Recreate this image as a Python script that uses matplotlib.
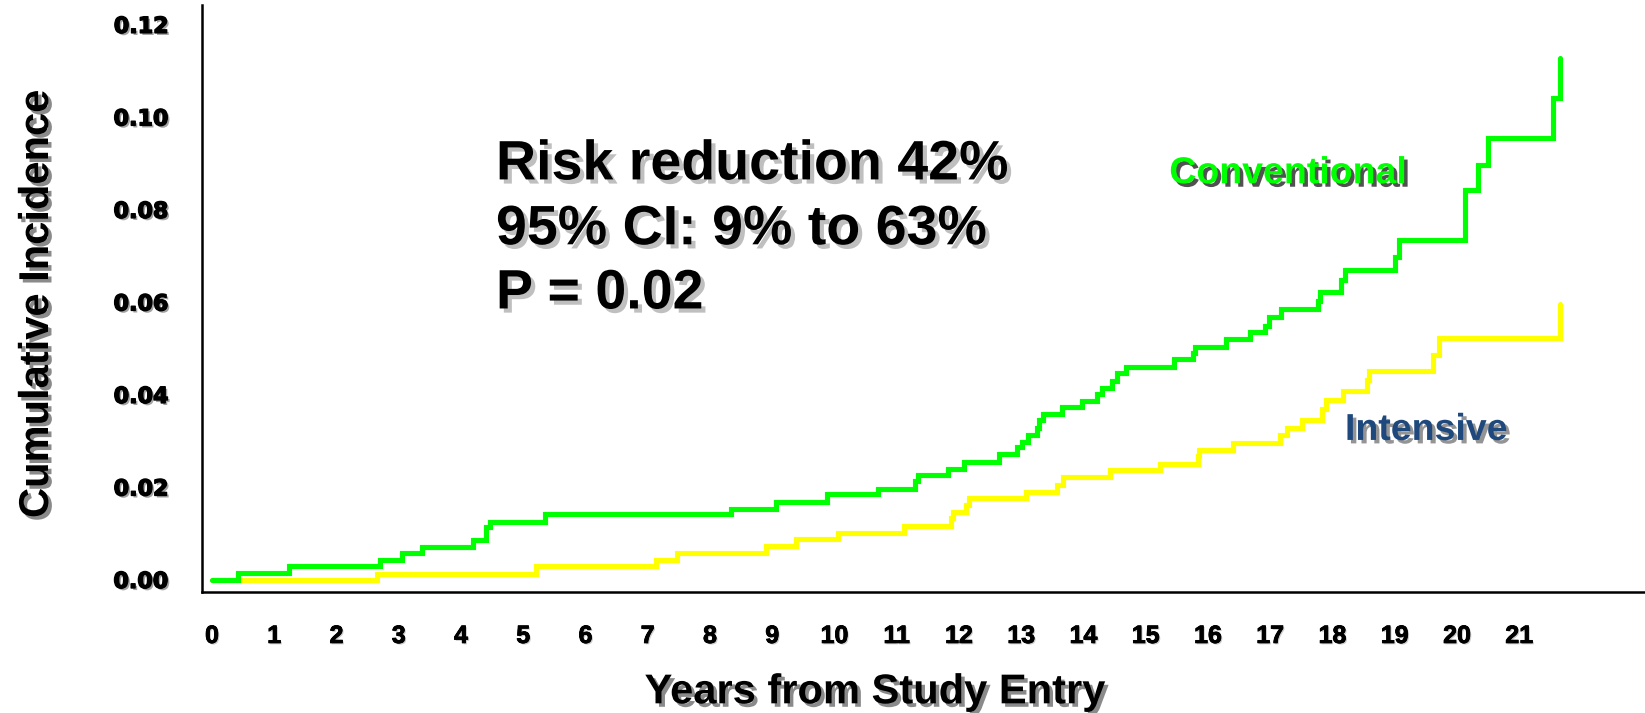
import matplotlib
matplotlib.use("Agg")
import matplotlib.pyplot as plt
import matplotlib.patheffects as pe

# ---------------- data ----------------
conv_years = [0.00, 0.42, 1.24, 2.70, 3.05, 3.37, 4.19, 4.40, 4.47, 5.35,
              8.34, 9.06, 9.88, 10.70, 11.30, 11.34, 11.83, 12.08, 12.64, 12.93,
              13.01, 13.11, 13.26, 13.29, 13.35, 13.66, 13.98, 14.22, 14.30, 14.46,
              14.54, 14.69, 15.46, 15.76, 15.79, 16.29, 16.68, 16.92, 16.98, 17.18,
              17.77, 17.80, 18.14, 18.20, 19.01, 19.07, 20.13, 20.34, 20.49, 21.55,
              21.66]
conv_inc = [0.0000, 0.0016, 0.0030, 0.0043, 0.0059, 0.0072, 0.0086, 0.0115, 0.0126, 0.0142,
            0.0154, 0.0169, 0.0185, 0.0197, 0.0213, 0.0227, 0.0240, 0.0256, 0.0272, 0.0287,
            0.0299, 0.0314, 0.0328, 0.0346, 0.0358, 0.0373, 0.0387, 0.0402, 0.0416, 0.0430,
            0.0447, 0.0461, 0.0477, 0.0491, 0.0504, 0.0520, 0.0535, 0.0549, 0.0568, 0.0585,
            0.0603, 0.0623, 0.0649, 0.0670, 0.0699, 0.0735, 0.0843, 0.0897, 0.0956, 0.1042,
            0.1128]

int_years = [0.00, 2.65, 5.21, 7.13, 7.47, 8.90, 9.38, 10.05, 11.12, 11.87,
             11.91, 12.11, 12.16, 13.08, 13.58, 13.67, 14.43, 15.23, 15.84, 15.86,
             16.40, 17.16, 17.27, 17.51, 17.83, 17.90, 18.17, 18.56, 18.59, 19.62,
             19.71, 21.66]
int_inc = [0.0000, 0.0014, 0.0030, 0.0043, 0.0058, 0.0074, 0.0089, 0.0102, 0.0117, 0.0133,
           0.0148, 0.0162, 0.0177, 0.0191, 0.0205, 0.0222, 0.0238, 0.0250, 0.0267, 0.0280,
           0.0296, 0.0314, 0.0328, 0.0346, 0.0369, 0.0389, 0.0409, 0.0432, 0.0452, 0.0486,
           0.0523, 0.0596]

x_ticks = list(range(0, 22))
x_tick_labels = [str(v) for v in x_ticks]
y_ticks = [0.00, 0.02, 0.04, 0.06, 0.08, 0.10, 0.12]
y_tick_labels = ["0.00", "0.02", "0.04", "0.06", "0.08", "0.10", "0.12"]

stats_lines = ["Risk reduction 42%", "95% CI: 9% to 63%", "P = 0.02"]
series_names = ["Conventional", "Intensive"]
x_title = "Years from Study Entry"
y_title = "Cumulative Incidence"

# ---------------- styling ----------------
GREEN = "#00FF00"
YELLOW = "#FFFF00"
NAVY = "#1F497D"
ARIAL = ["Liberation Sans", "DejaVu Sans"]


def shadow(off=2, color="0.35", alpha=0.7):
    return [pe.withSimplePatchShadow(offset=(off, -off), shadow_rgbFace=color, alpha=alpha)]


fig = plt.figure(figsize=(16.45, 7.13), dpi=100)
ax = fig.add_axes([0.1228, 0.1697, 0.8772, 0.8233])

ax.step(conv_years, conv_inc, where="post", color=GREEN, lw=3.7,
        solid_joinstyle="miter", solid_capstyle="round", zorder=3)
ax.step(int_years, int_inc, where="post", color=YELLOW, lw=3.7,
        solid_joinstyle="miter", solid_capstyle="round", zorder=2)

ax.set_xlim(-0.16, 23.02)
ax.set_ylim(-0.0026, 0.1243)

for s in ["top", "right"]:
    ax.spines[s].set_visible(False)
for s in ["left", "bottom"]:
    ax.spines[s].set_linewidth(1.8)
    ax.spines[s].set_color("black")

ax.set_xticks(x_ticks)
ax.set_xticklabels(x_tick_labels, family=ARIAL, fontweight="bold", fontsize=18)
ax.set_yticks(y_ticks)
ax.set_yticklabels(y_tick_labels, family=["DejaVu Sans"], fontweight="bold", fontsize=16)
ax.tick_params(axis="x", length=0, pad=23)
ax.tick_params(axis="y", length=0, pad=24)
for lab in ax.get_yticklabels():
    lab.set_path_effects([pe.withSimplePatchShadow(offset=(1.5, -1.5), shadow_rgbFace="0.4", alpha=0.6),
                          pe.withStroke(linewidth=1.0, foreground="black")])
for lab in ax.get_xticklabels():
    lab.set_path_effects([pe.withSimplePatchShadow(offset=(1, -1), shadow_rgbFace="0.5", alpha=0.4),
                          pe.withStroke(linewidth=0.6, foreground="black")])

fig.text(0.0225, 0.574, y_title, rotation=90, ha="center", va="center",
         family=ARIAL, fontweight="bold", fontsize=30, path_effects=shadow(2.5))
fig.text(0.532, 0.029, x_title, ha="center", va="center",
         family=ARIAL, fontweight="bold", fontsize=30, path_effects=shadow(2.5))

line_y = [0.768, 0.677, 0.587]
for txt, yy in zip(stats_lines, line_y):
    fig.text(0.3015, yy, txt, ha="left", va="center", family=ARIAL,
             fontweight="bold", fontsize=40, color="black", path_effects=shadow(3, "0.5", 0.5))

fig.text(0.783, 0.757, series_names[0], ha="center", va="center", family=ARIAL,
         fontweight="bold", fontsize=27, color=GREEN, path_effects=shadow(2.5, "0.15", 0.8))
fig.text(0.867, 0.397, series_names[1], ha="center", va="center", family=ARIAL,
         fontweight="bold", fontsize=27, color=NAVY, path_effects=shadow(2.5, "0.3", 0.6))

fig.savefig("out.png", dpi=100)
